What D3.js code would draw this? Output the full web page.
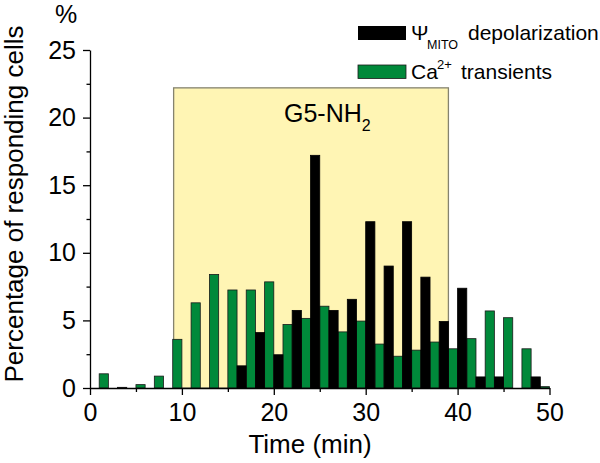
<!DOCTYPE html>
<html lang="en">
<head>
<meta charset="utf-8">
<title>Responding cells</title>
<script src="https://cdn.jsdelivr.net/npm/d3@7"></script>
<style>
  body { margin: 0; background: #fff; }
  svg text { font-family: "Liberation Sans", Arial, Helvetica, sans-serif; fill: #000; }
</style>
</head>
<body>
<script>
// bin start (min) and % of responding cells
var caStart = [1, 3, 5, 7, 9, 11, 13, 15, 17, 19, 21, 23, 25, 27, 29, 31, 33, 35, 37, 39, 41, 43, 45, 47, 49];
var caValues = [1.05, 0.05, 0.25, 0.88, 3.6, 6.3, 8.4, 7.25, 7.25, 7.85, 4.7, 5.15, 6.05, 4.15, 4.95, 3.25, 2.35, 2.8, 3.4, 2.9, 3.65, 5.7, 5.2, 2.9, 0.1];
var mitoStart = [16, 18, 20, 22, 24, 26, 28, 30, 32, 34, 36, 38, 40, 42, 44, 46, 48];
var mitoValues = [1.64, 4.1, 2.46, 5.74, 17.21, 5.74, 6.56, 12.3, 9.02, 12.3, 8.2, 4.92, 7.38, 0.82, 0.82, 0, 0.82];
var shadeRange = [9.1, 39];   // G5-NH2 application
var shadeTop = 22.2;
var xTicks = [0, 10, 20, 30, 40, 50];
var xMinor = [5, 15, 25, 35, 45];
var yTicks = [0, 5, 10, 15, 20, 25];
var yMinor = [2.5, 7.5, 12.5, 17.5, 22.5];

var width = 600, height = 463;
var green = "#00893a";

var svg = d3.select("body").append("svg")
    .attr("width", width)
    .attr("height", height);

var x = d3.scaleLinear().domain([0, 50]).range([90, 549.5]);
var y = d3.scaleLinear().domain([0, 25]).range([388, 50]);
var bw = x(1) - x(0);

// shaded treatment window
svg.append("rect")
    .attr("x", x(shadeRange[0]))
    .attr("y", y(shadeTop))
    .attr("width", x(shadeRange[1]) - x(shadeRange[0]))
    .attr("height", y(0) - y(shadeTop))
    .attr("fill", "#fff5b4")
    .attr("stroke", "#85836f")
    .attr("stroke-width", 1.3);

svg.append("text")
    .attr("x", 284)
    .attr("y", 122)
    .attr("font-size", 25)
    .text("G5-NH")
    .append("tspan")
    .attr("font-size", 16)
    .attr("dy", 9)
    .text("2");

svg.selectAll("rect.ca")
    .data(caStart)
    .enter()
    .append("rect")
    .attr("class", "ca")
    .attr("x", function (d) { return x(d); })
    .attr("y", function (d, i) { return y(caValues[i]); })
    .attr("width", bw)
    .attr("height", function (d, i) { return y(0) - y(caValues[i]); })
    .attr("fill", green)
    .attr("stroke", "#1a1a1a")
    .attr("stroke-width", 0.8);

svg.selectAll("rect.mito")
    .data(mitoStart)
    .enter()
    .append("rect")
    .attr("class", "mito")
    .attr("x", function (d) { return x(d); })
    .attr("y", function (d, i) { return y(mitoValues[i]); })
    .attr("width", bw)
    .attr("height", function (d, i) { return y(0) - y(mitoValues[i]); })
    .attr("fill", "#000")
    .attr("stroke", "#000")
    .attr("stroke-width", 0.8);

// axes
var gx = svg.append("g").attr("transform", "translate(0," + y(0) + ")");
gx.call(d3.axisBottom(x).tickValues(xTicks).tickSize(7).tickSizeOuter(0).tickPadding(8));
var gxm = svg.append("g").attr("transform", "translate(0," + y(0) + ")");
gxm.call(d3.axisBottom(x).tickValues(xMinor).tickSize(4).tickSizeOuter(0).tickFormat(""));
gxm.select(".domain").remove();

var gy = svg.append("g").attr("transform", "translate(" + x(0) + ",0)");
gy.call(d3.axisLeft(y).tickValues(yTicks).tickSize(7).tickSizeOuter(0).tickPadding(7));
var gym = svg.append("g").attr("transform", "translate(" + x(0) + ",0)");
gym.call(d3.axisLeft(y).tickValues(yMinor).tickSize(3.5).tickSizeOuter(0).tickFormat(""));
gym.select(".domain").remove();

svg.selectAll(".tick text")
    .attr("font-size", 25)
    .attr("font-family", "Liberation Sans, Arial, sans-serif")
    .attr("fill", "#000");
svg.selectAll(".domain, .tick line")
    .attr("stroke", "#000")
    .attr("stroke-width", 1.3);

svg.append("text")
    .attr("x", 310)
    .attr("y", 453)
    .attr("text-anchor", "middle")
    .attr("font-size", 26)
    .text("Time (min)");

svg.append("text")
    .attr("transform", "translate(23,204) rotate(-90)")
    .attr("text-anchor", "middle")
    .attr("font-size", 26)
    .text("Percentage of responding cells");

svg.append("text")
    .attr("x", 66)
    .attr("y", 23)
    .attr("text-anchor", "middle")
    .attr("font-size", 25)
    .text("%");

// legend
var lg = svg.append("g");
lg.append("rect")
    .attr("x", 358).attr("y", 26).attr("width", 48).attr("height", 14)
    .attr("fill", "#000");
lg.append("rect")
    .attr("x", 358).attr("y", 65).attr("width", 48).attr("height", 13.5)
    .attr("fill", green).attr("stroke", "#1a1a1a").attr("stroke-width", 0.8);

var t1 = lg.append("text").attr("x", 411).attr("y", 40).attr("font-size", 21);
t1.append("tspan").text("\u03A8");
t1.append("tspan").attr("font-size", 12.5).attr("dy", 9).attr("x", 427).text("MITO");
t1.append("tspan").attr("dy", -9).attr("x", 468).text("depolarization");

var t2 = lg.append("text").attr("x", 411).attr("y", 79).attr("font-size", 21);
t2.append("tspan").text("Ca");
t2.append("tspan").attr("font-size", 13).attr("dy", -10).attr("x", 437).text("2+");
t2.append("tspan").attr("dy", 10).attr("x", 461).text("transients");
</script>
</body>
</html>
